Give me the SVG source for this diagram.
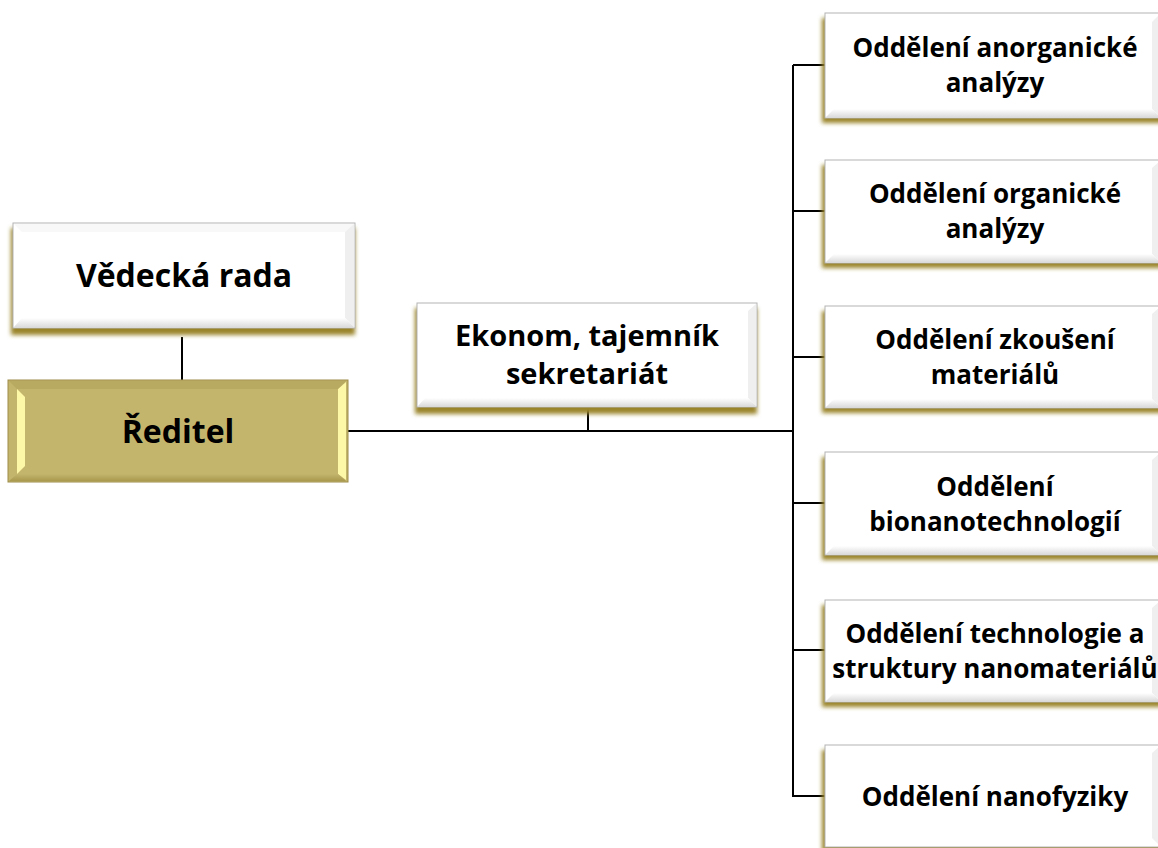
<svg xmlns="http://www.w3.org/2000/svg" width="1158" height="848" viewBox="0 0 1158 848">
<defs>
<style>
.t{font-family:"Open Sans","Liberation Sans",sans-serif;font-weight:bold;fill:#000;text-anchor:middle}
.s{font-size:26px}
.m{font-size:29px}
.b{font-size:32px}
.w{fill:#ffffff;stroke:#b4b4b4;stroke-width:1}
.g{fill:#c4b56d;stroke:#9c8c48;stroke-width:1}
.sh{fill:#9a842c;filter:url(#blur)}
.c{stroke:#000;stroke-width:2;fill:none}
.bw1{fill:#f4f4f4}
.bw2{fill:#efefef}
.bg1{fill:#fdf7a8}
.bg2{fill:#a8994e}
</style>
<filter id="blur" x="-10%" y="-20%" width="120%" height="140%"><feGaussianBlur stdDeviation="2"/></filter>
<linearGradient id="botw" x1="0" y1="0" x2="0" y2="1"><stop offset="0" stop-color="#ffffff"/><stop offset="1" stop-color="#dcdcdc"/></linearGradient>
<linearGradient id="botg" x1="0" y1="0" x2="0" y2="1"><stop offset="0" stop-color="#c4b56d"/><stop offset="1" stop-color="#a8994e"/></linearGradient>
</defs>

<g id="connectors">
<path class="c" d="M182,337 V380"/>
<path class="c" d="M348,431 H793"/>
<path class="c" d="M588,407 V431"/>
<path class="c" d="M793,65 V797"/>
<path class="c" d="M793,65 H825 M793,211 H825 M793,357 H825 M793,503 H825 M793,650 H825 M793,796 H825"/>
</g>

<g id="vedecka-rada">
<rect class="sh" x="11" y="228" width="344" height="107"/>
<rect class="w" x="13" y="223" width="342" height="105"/>
<polygon class="bw1" points="14,224 354,224 345,232 22,232" opacity="0.6"/>
<polygon class="bw2" points="345,232 354,224 354,327 345,318"/>
<polygon fill="url(#botw)" points="22,318 345,318 354,327 14,327"/>
<text class="t b" x="184" y="287">Vědecká rada</text>
</g>

<g id="reditel">
<rect class="g" x="8" y="380" width="340" height="102"/>
<polygon class="bg1" points="17,389 25,397 25,466 17,474"/>
<polygon class="bg1" points="338,389 346,382 346,480 338,474"/>
<polygon fill="url(#botg)" points="17,474 338,474 346,481 9,481"/>
<polygon fill="#b3a45c" points="9,381 346,381 338,389 17,389" opacity="0.6"/>
<text class="t b" x="178" y="443">Ředitel</text>
</g>

<g id="ekonom">
<rect class="sh" x="415" y="308" width="342" height="106"/>
<rect class="w" x="417" y="303" width="340" height="104"/>
<polygon class="bw2" points="748,311 756,304 756,406 748,398"/>
<polygon fill="url(#botw)" points="425,398 748,398 756,406 418,406"/>
<text class="t m" x="587" y="346">Ekonom, tajemník</text>
<text class="t m" x="587" y="384">sekretariát</text>
</g>

<g id="odd-anorg">
<rect class="sh" x="822" y="18" width="345" height="105"/>
<rect class="w" x="825" y="13" width="345" height="105"/>
<polygon class="bw2" points="1152,22 1160,14 1160,117 1152,109"/>
<polygon fill="url(#botw)" points="834,109 1152,109 1160,117 826,117"/>
<text class="t s" x="995" y="57">Oddělení anorganické</text>
<text class="t s" x="995" y="92">analýzy</text>
</g>

<g id="odd-org">
<rect class="sh" x="822" y="165" width="345" height="103"/>
<rect class="w" x="825" y="160" width="345" height="103"/>
<polygon class="bw2" points="1152,168 1160,161 1160,262 1152,254"/>
<polygon fill="url(#botw)" points="834,254 1152,254 1160,262 826,262"/>
<text class="t s" x="995" y="203">Oddělení organické</text>
<text class="t s" x="995" y="238">analýzy</text>
</g>

<g id="odd-zkouseni">
<rect class="sh" x="822" y="311" width="345" height="102"/>
<rect class="w" x="825" y="306" width="345" height="102"/>
<polygon class="bw2" points="1152,314 1160,307 1160,407 1152,399"/>
<polygon fill="url(#botw)" points="834,399 1152,399 1160,407 826,407"/>
<text class="t s" x="995" y="349">Oddělení zkoušení</text>
<text class="t s" x="995" y="384">materiálů</text>
</g>

<g id="odd-bionano">
<rect class="sh" x="822" y="457" width="345" height="103"/>
<rect class="w" x="825" y="452" width="345" height="103"/>
<polygon class="bw2" points="1152,460 1160,453 1160,554 1152,546"/>
<polygon fill="url(#botw)" points="834,546 1152,546 1160,554 826,554"/>
<text class="t s" x="995" y="496">Oddělení</text>
<text class="t s" x="995" y="531">bionanotechnologií</text>
</g>

<g id="odd-techno">
<rect class="sh" x="822" y="605" width="345" height="102"/>
<rect class="w" x="825" y="600" width="345" height="102"/>
<polygon class="bw2" points="1152,608 1160,601 1160,701 1152,693"/>
<polygon fill="url(#botw)" points="834,693 1152,693 1160,701 826,701"/>
<text class="t s" x="995" y="643">Oddělení technologie a</text>
<text class="t s" x="995" y="678">struktury nanomateriálů</text>
</g>

<g id="odd-nanofyz">
<rect class="sh" x="822" y="750" width="345" height="102"/>
<rect class="w" x="825" y="745" width="345" height="102"/>
<polygon class="bw2" points="1152,753 1160,746 1160,846 1152,838"/>
<text class="t s" x="995" y="806">Oddělení nanofyziky</text>
</g>
</svg>
